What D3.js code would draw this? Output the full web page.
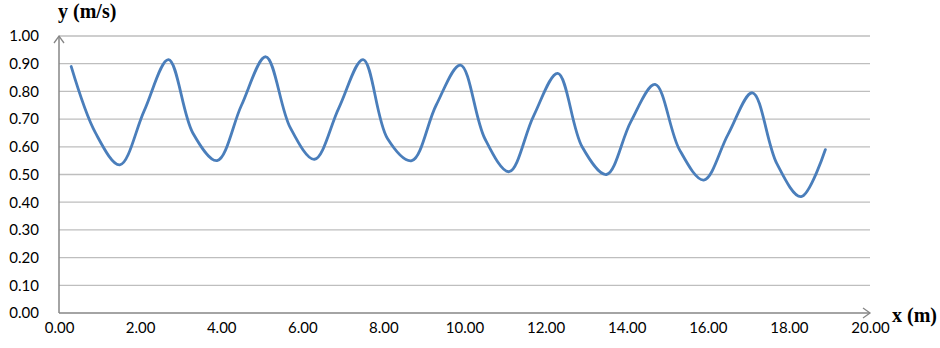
<!DOCTYPE html>
<html>
<head>
<meta charset="utf-8">
<script src="https://cdn.jsdelivr.net/npm/d3@7"></script>
<style>
  body { margin: 0; background: #fff; }
  .tick text { font-family: Lato, "Open Sans", sans-serif; font-size: 15px; fill: #000; }
</style>
</head>
<body>
<script>
// measured points along the channel
var xs = [0.3, 0.9, 1.5, 2.1, 2.7, 3.3, 3.9, 4.5, 5.1, 5.7, 6.3, 6.9, 7.5, 8.1, 8.7, 9.3,
          9.9, 10.5, 11.1, 11.7, 12.3, 12.9, 13.5, 14.1, 14.7, 15.3, 15.9, 16.5, 17.1, 17.7, 18.3, 18.9];
var ys = [0.89, 0.65, 0.535, 0.73, 0.915, 0.65, 0.55, 0.75, 0.925, 0.67, 0.555, 0.74, 0.915, 0.63, 0.55, 0.75,
          0.895, 0.63, 0.51, 0.71, 0.865, 0.60, 0.50, 0.69, 0.825, 0.59, 0.48, 0.645, 0.795, 0.54, 0.42, 0.59];
var xTicks = [0, 2, 4, 6, 8, 10, 12, 14, 16, 18, 20];
var yTicks = [0, 0.1, 0.2, 0.3, 0.4, 0.5, 0.6, 0.7, 0.8, 0.9, 1.0];

var w = 940, h = 348;
var m = { left: 59, right: 870, top: 36, bottom: 313 };

var svg = d3.select('body').append('svg')
    .attr('width', w)
    .attr('height', h);

var x = d3.scaleLinear().domain([0, 20]).range([m.left, m.right]);
var y = d3.scaleLinear().domain([0, 1]).range([m.bottom, m.top]);

// gridlines
svg.append('g')
    .selectAll('line')
    .data(yTicks.slice(1))
    .enter()
    .append('line')
    .attr('x1', m.left)
    .attr('x2', m.right)
    .attr('y1', function(d) { return y(d); })
    .attr('y2', function(d) { return y(d); })
    .attr('stroke', '#bebebe')
    .attr('stroke-width', 1.3);

var fmt = d3.format('.2f');

var yAxis = svg.append('g')
    .attr('transform', 'translate(' + m.left + ',0)')
    .call(d3.axisLeft(y).tickValues(yTicks).tickFormat(fmt).tickSize(0).tickPadding(20));
yAxis.select('.domain').remove();

var xAxis = svg.append('g')
    .attr('transform', 'translate(0,' + m.bottom + ')')
    .call(d3.axisBottom(x).tickValues(xTicks).tickFormat(fmt).tickSize(0).tickPadding(9));
xAxis.select('.domain').remove();

// axis lines with open arrowheads
var axisColor = '#868686';
svg.append('line')
    .attr('x1', m.left).attr('y1', m.bottom).attr('x2', m.left).attr('y2', m.top)
    .attr('stroke', axisColor).attr('stroke-width', 1.5);
svg.append('line')
    .attr('x1', m.left).attr('y1', m.bottom).attr('x2', m.right).attr('y2', m.bottom)
    .attr('stroke', axisColor).attr('stroke-width', 1.5);
svg.append('path')
    .attr('d', 'M' + (m.left - 5) + ',' + (m.top + 7) + 'L' + m.left + ',' + m.top + 'L' + (m.left + 5) + ',' + (m.top + 7))
    .attr('fill', 'none').attr('stroke', axisColor).attr('stroke-width', 1.3);
svg.append('path')
    .attr('d', 'M' + (m.right - 7) + ',' + (m.bottom - 5) + 'L' + m.right + ',' + m.bottom + 'L' + (m.right - 7) + ',' + (m.bottom + 5))
    .attr('fill', 'none').attr('stroke', axisColor).attr('stroke-width', 1.3);

// data line
var data = xs.map(function(d, i) { return { x: d, y: ys[i] }; });
var line = d3.line()
    .x(function(d) { return x(d.x); })
    .y(function(d) { return y(d.y); })
    .curve(d3.curveCatmullRom.alpha(0.5));

svg.append('path')
    .datum(data)
    .attr('d', line)
    .attr('fill', 'none')
    .attr('stroke', '#4a7ebb')
    .attr('stroke-width', 2.8)
    .attr('stroke-linejoin', 'round')
    .attr('stroke-linecap', 'round');

// axis titles
svg.append('text')
    .attr('x', 58).attr('y', 18)
    .attr('font-family', '"Liberation Serif", serif')
    .attr('font-weight', 'bold')
    .attr('font-size', 20)
    .text('y (m/s)');
svg.append('text')
    .attr('x', 892).attr('y', 322)
    .attr('font-family', '"Liberation Serif", serif')
    .attr('font-weight', 'bold')
    .attr('font-size', 20)
    .text('x (m)');
</script>
</body>
</html>
